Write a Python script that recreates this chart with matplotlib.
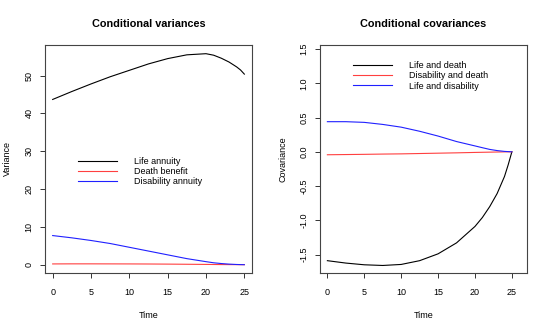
import matplotlib
matplotlib.use('Agg')
import matplotlib.pyplot as plt

plt.rcParams.update({
    'font.family': 'Liberation Sans',
    'font.size': 6.5,
    'axes.linewidth': 0.8,
    'axes.edgecolor': '#444444',
})

# ── Data ────────────────────────────────────────────────────────────────────
TIME = [0, 2.5, 5, 7.5, 10, 12.5, 15, 17.5, 20, 21, 22, 23, 24, 24.5, 25]

VAR_LIFE = [43.7, 45.8, 47.8, 49.7, 51.4, 53.1, 54.5, 55.5, 55.8, 55.4, 54.6, 53.6, 52.3,
            51.5, 50.4]
VAR_DEATH = [0.2, 0.22, 0.22, 0.21, 0.2, 0.18, 0.15, 0.11, 0.07, 0.05, 0.03, 0.02, 0.01,
             0.005, 0.0]
VAR_DISAB = [7.7, 7.1, 6.4, 5.6, 4.6, 3.6, 2.6, 1.6, 0.8, 0.5, 0.3, 0.15, 0.05, 0.02, 0.0]

COV_LIFE_DEATH = [-1.59, -1.625, -1.65, -1.66, -1.645, -1.59, -1.49, -1.33, -1.09,
                  -0.96, -0.80, -0.61, -0.36, -0.19, 0.0]
COV_DISAB_DEATH = [-0.043, -0.040, -0.037, -0.033, -0.030, -0.025, -0.020, -0.015,
                   -0.009, -0.007, -0.005, -0.003, -0.001, -0.0005, 0.0]
COV_LIFE_DISAB = [0.44, 0.44, 0.43, 0.40, 0.36, 0.30, 0.23, 0.15, 0.086, 0.06, 0.035,
                  0.018, 0.006, 0.003, 0.0]

VAR_LABELS = ['Life annuity', 'Death benefit', 'Disability annuity']
COV_LABELS = ['Life and death', 'Disability and death', 'Life and disability']
COLORS = ['black', '#ff4040', '#2020ff']

fig = plt.figure(figsize=(5.5, 3.3), dpi=100)
ax1 = fig.add_axes([45 / 550, 57 / 330, 207 / 550, 228 / 330])
ax2 = fig.add_axes([320 / 550, 57 / 330, 207 / 550, 228 / 330])


def style(ax):
    ax.tick_params(axis='both', length=3.6, width=0.7, color='#333333')
    ax.tick_params(axis='x', pad=7)
    ax.tick_params(axis='y', pad=4.5, labelrotation=90)
    for lab in ax.get_yticklabels():
        lab.set_va('center')
    ax.set_xlabel('Time', labelpad=10)


# ── Left: conditional variances ─────────────────────────────────────────────
for vals, lab, col in zip([VAR_LIFE, VAR_DEATH, VAR_DISAB], VAR_LABELS, COLORS):
    ax1.plot(TIME, vals, color=col, lw=0.8, label=lab)
ax1.set_xlim(-1, 26)
ax1.set_ylim(-2.2, 58.1)
ax1.set_xticks([0, 5, 10, 15, 20, 25])
ax1.set_yticks([0, 10, 20, 30, 40, 50])
ax1.set_ylabel('Variance', labelpad=9)
ax1.set_title('Conditional variances', fontsize=7.8, fontweight='bold', pad=13)
style(ax1)
ax1.legend(loc='upper left', bbox_to_anchor=(0.16, 0.508), frameon=False,
           handlelength=4.3, handletextpad=1.9, labelspacing=0.12, borderpad=0,
           borderaxespad=0, fontsize=6.5)

# ── Right: conditional covariances ──────────────────────────────────────────
for vals, lab, col in zip([COV_LIFE_DEATH, COV_DISAB_DEATH, COV_LIFE_DISAB], COV_LABELS, COLORS):
    ax2.plot(TIME, vals, color=col, lw=0.8, label=lab)
ax2.set_xlim(-1, 27.05)
ax2.set_ylim(-1.77, 1.56)
ax2.set_xticks([0, 5, 10, 15, 20, 25])
ax2.set_yticks([-1.5, -1.0, -0.5, 0.0, 0.5, 1.0, 1.5])
ax2.set_yticklabels(['-1.5', '-1.0', '-0.5', '0.0', '0.5', '1.0', '1.5'])
ax2.set_ylabel('Covariance', labelpad=9)
ax2.set_title('Conditional covariances', fontsize=7.8, fontweight='bold', pad=13)
style(ax2)
ax2.legend(loc='upper left', bbox_to_anchor=(33 / 207, 0.928), frameon=False,
           handlelength=4.3, handletextpad=1.9, labelspacing=0.12, borderpad=0,
           borderaxespad=0, fontsize=6.5)

fig.savefig('out.png', dpi=100)
